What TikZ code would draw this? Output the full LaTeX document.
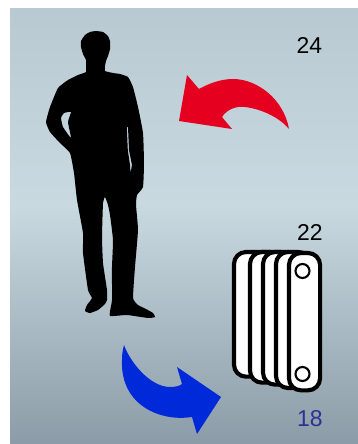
\documentclass[tikz,border=0pt]{standalone}
\usepackage{fontspec}
\setmainfont{Liberation Sans}
\definecolor{bgtop}{HTML}{B8C9D2}
\definecolor{bgmid}{HTML}{C9D9E0}
\definecolor{bgbot}{HTML}{8B9CA8}
\definecolor{arrowred}{HTML}{E6001F}
\definecolor{arrowblue}{HTML}{0029D9}
\definecolor{numblue}{HTML}{2E3192}
\tikzset{
  num/.style={font=\fontsize{17.2pt}{20pt}\selectfont,inner sep=0pt,text=black},
  plate/.style={draw=black,fill=white,line width=3.1pt,rounded corners=9pt,outer sep=0pt,inner sep=0pt,anchor=north west},
  port/.style={draw=black,fill=white,line width=1.6pt,circle,minimum size=10.5pt,inner sep=0pt},
}
\begin{document}
\begin{tikzpicture}[x=0.75pt,y=-0.75pt]
\useasboundingbox (0,0) rectangle (358,444);
\shade[top color=bgtop,bottom color=bgmid] (10,8) rectangle (358,205);
\shade[top color=bgmid,bottom color=bgbot] (10,205) rectangle (358,444);
% silhouette
\fill[black,even odd rule,line join=round]
 plot[smooth cycle,tension=0.25] coordinates {
 (86,60)(83,54)(81,47)(81,41)(85,35)(90,32)(96,31)(103,32)(108,36)(110,41)(110,49)(108,56)(106,61)(105,66)(105,71)
 (113,73)(120,74)(128,77)(133,87)(138,107)(143,133)(144,163)(143,187)(137,195)(136,205)
 (138,230)(135,267)(133,298)(138,305)(146,309)(153,313)(155,317)(148,318)(127,315)(110,316)
 (111,306)(112,300)(112,267)(113,240)(110,215)(108,205)(105,197)(103,203)(102,237)(103,263)(107,290)(107,300)
 (105,304)(98,310)(90,313)(85,311)(87,305)(92,298)(88,290)(83,253)(83,233)(77,200)
 (74,173)(70,153)(60,143)(50,132)(46,122)(50,107)(58,88)(68,80)(78,75)(86,72)(86,66)}
 plot[smooth cycle,tension=0.25] coordinates {(61,118)(64,113)(71,112)(68,122)(71,138)(63,127)}
 (126.8,127) -- (128,127) -- (129,150) -- (132,165) -- (130.5,173) -- (130,165) -- (127.8,150) -- cycle;
% red arrow
\fill[arrowred] (289,129) .. controls (284,100) and (258,79) .. (233,79)
  .. controls (220,79) and (208,84) .. (199,89)
  -- (187,75) -- (179,121) -- (232,129) -- (222,117)
  .. controls (228,108) and (238,106) .. (245,107)
  .. controls (262,109) and (280,118) .. (289,129) -- cycle;
% blue arrow
\fill[arrowblue] (124,345) .. controls (130,362) and (150,387) .. (170,387)
  .. controls (175,387) and (180,386) .. (182,384)
  -- (177,367) -- (221,397) -- (197,434) -- (192,417)
  .. controls (160,422) and (120,405) .. (122,360)
  .. controls (122,353) and (123,349) .. (124,345) -- cycle;
% radiator
\node[plate,minimum width=36pt,minimum height=93.5pt] (p1) at (234,252) {};
\node[plate,minimum width=32pt,minimum height=98pt] (p2) at (250,252) {};
\node[plate,minimum width=28pt,minimum height=99.5pt] (p3) at (263,252) {};
\node[plate,minimum width=26pt,minimum height=102pt] (p4) at (276,252) {};
\node[plate,minimum width=23.3pt,minimum height=103pt] (p5) at (289,253) {};
\node[port] (c1) at (302.5,271) {};
\node[port] (c2) at (302.5,374) {};
% labels
\node[num] (t24) at (309.5,45) {24};
\node[num] (t22) at (310,232) {22};
\node[num,text=numblue] (t18) at (310,419) {18};
\end{tikzpicture}
\end{document}
